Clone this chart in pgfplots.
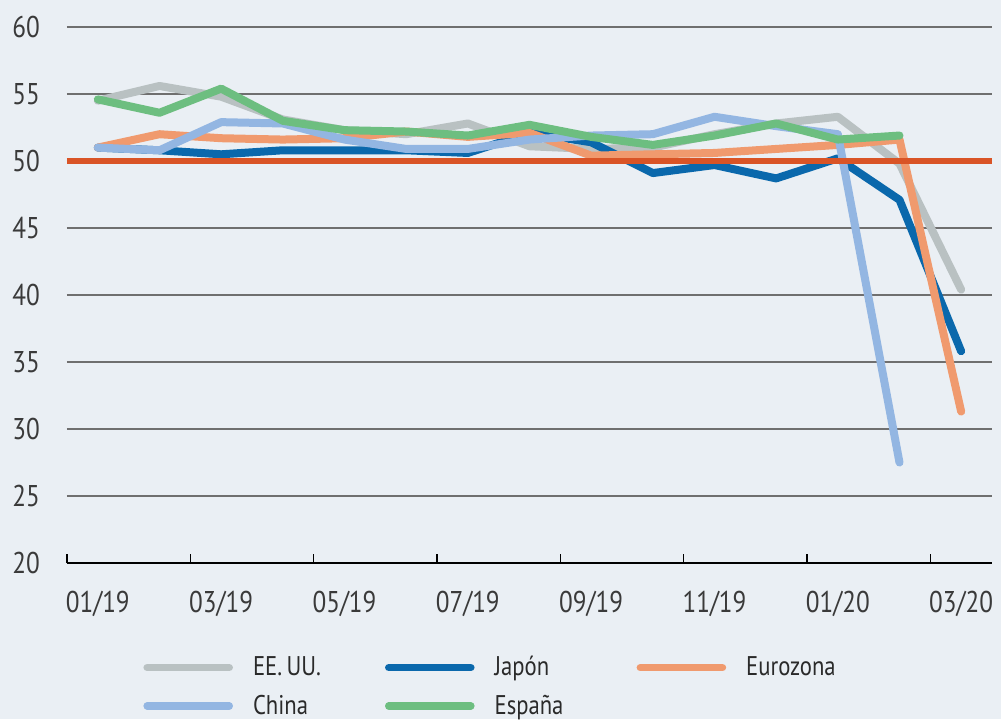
\documentclass[border=0pt]{standalone}
\usepackage{fontspec}
\setmainfont{PT Sans}[FakeStretch=0.84]
\usepackage{pgfplots}
\pgfplotsset{compat=1.18}
\definecolor{bg}{HTML}{EAEFF4}
\definecolor{cus}{HTML}{B9C1C2}
\definecolor{cjp}{HTML}{0A68AC}
\definecolor{ceu}{HTML}{F09A6E}
\definecolor{ccn}{HTML}{93B6E2}
\definecolor{ces}{HTML}{6DBE80}
\definecolor{cred}{HTML}{D95426}
\definecolor{cgrid}{HTML}{6F6F6F}
\definecolor{ctext}{HTML}{3A3A3A}
\definecolor{cleg}{HTML}{2A2A2A}
\begin{document}
\begin{tikzpicture}
\path[use as bounding box, fill=bg] (-33.5pt,-78pt) rectangle (467pt,281.5pt);
\begin{axis}[
  at={(0,0)}, anchor=south west,
  scale only axis, width=462.5pt, height=268pt,
  xmin=0, xmax=15, ymin=20, ymax=60,
  axis x line*=bottom, axis y line*=left,
  y axis line style={draw=none},
  x axis line style={black, line width=1pt},
  xtick={0,2,...,14},
  xticklabels={01/19,03/19,05/19,07/19,09/19,11/19,01/20,03/20},
  ytick={20,25,...,60},
  ymajorgrids, grid style={cgrid, line width=1.1pt},
  ytick style={draw=none},
  xtick style={black, line width=0.8pt},
  tick align=inside, major tick length=4.5pt,
  tick label style={font=\fontsize{15}{17}\selectfont, text=ctext},
  xticklabel style={yshift=-10.5pt, xshift=15.4pt},
  yticklabel style={xshift=-10pt},
  /pgf/number format/assume math mode=true,
  clip=false,
  legend columns=3,
  legend style={at={([xshift=35pt,yshift=-42.5pt]axis description cs:0,0)}, anchor=north west,
    draw=none, fill=none, font=\fontsize{13.5}{15}\selectfont, text=cleg,
    /tikz/every odd column/.append style={column sep=8pt},
    /tikz/every even column/.append style={column sep=0pt},
    row sep=4pt},
  legend cell align=left,
  legend image code/.code={\draw[#1, line width=3.8pt] (0pt,0pt) -- (41pt,0pt);},
  every axis plot/.append style={line width=4pt, line join=round, line cap=round},
]
\addplot[cus] coordinates {(0.5,54.5) (1.5,55.6) (2.5,54.8) (3.5,53.1) (4.5,52.3) (5.5,52.0) (6.5,52.8) (7.5,51.1) (8.5,50.9) (9.5,51.0) (10.5,52.0) (11.5,52.8) (12.5,53.3) (13.5,49.8) (14.5,40.4)};
\addlegendentry{\makebox[64pt][l]{EE.\,UU.}}
\addplot[cjp] coordinates {(0.5,51.0) (1.5,50.8) (2.5,50.5) (3.5,50.8) (4.5,50.8) (5.5,50.8) (6.5,50.6) (7.5,52.1) (8.5,51.4) (9.5,49.1) (10.5,49.7) (11.5,48.7) (12.5,50.2) (13.5,47.1) (14.5,35.8)};
\addlegendentry{\makebox[69pt][l]{Japón}}
\addplot[ceu] coordinates {(0.5,51.0) (1.5,52.0) (2.5,51.7) (3.5,51.6) (4.5,51.7) (5.5,52.2) (6.5,51.8) (7.5,52.1) (8.5,50.4) (9.5,50.5) (10.5,50.6) (11.5,50.9) (12.5,51.2) (13.5,51.6) (14.5,31.3)};
\addlegendentry{Eurozona}
\addplot[ccn] coordinates {(0.5,51.0) (1.5,50.8) (2.5,52.9) (3.5,52.8) (4.5,51.6) (5.5,50.9) (6.5,50.9) (7.5,51.6) (8.5,51.9) (9.5,52.0) (10.5,53.3) (11.5,52.6) (12.5,52.0) (13.5,27.5)};
\addlegendentry{China}
\addplot[ces] coordinates {(0.5,54.6) (1.5,53.6) (2.5,55.4) (3.5,53.0) (4.5,52.3) (5.5,52.2) (6.5,51.9) (7.5,52.7) (8.5,51.8) (9.5,51.2) (10.5,51.9) (11.5,52.8) (12.5,51.6) (13.5,51.9)};
\addlegendentry{España}
\addplot[cred, line width=3pt, line cap=butt, forget plot] coordinates {(0,50) (15,50)};
\end{axis}
\end{tikzpicture}
\end{document}
